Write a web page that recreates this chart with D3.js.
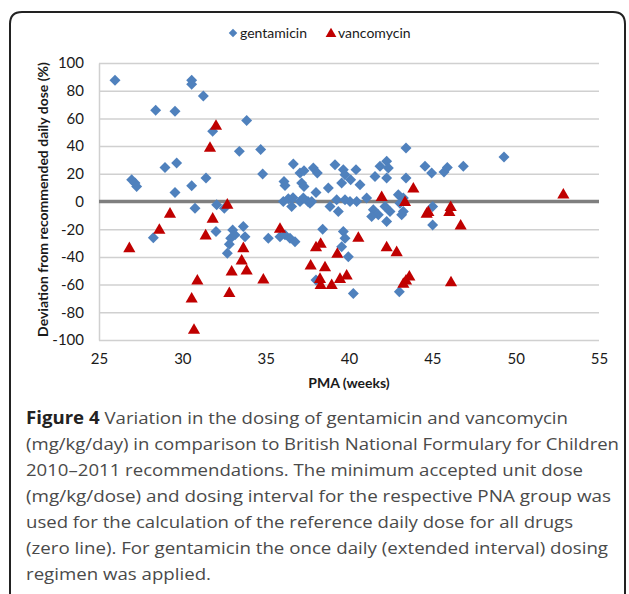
<!DOCTYPE html>
<html>
<head>
<meta charset="utf-8">
<script src="https://cdn.jsdelivr.net/npm/d3@7"></script>
<style>
  body { margin: 0; background: #fff; }
  svg { display: block; }
  text { font-family: Lato, "Open Sans", sans-serif; }
  .caption text { font-family: "Open Sans", "Noto Sans", sans-serif; }
</style>
</head>
<body>
<div id="vis-container"></div>
<script>
// values
let gentamicinPMA = [25.96, 26.96, 27.16, 27.26, 28.40, 29.56, 28.96, 29.66, 29.56, 30.56,
  30.56, 31.26, 31.82, 31.42, 30.56, 33.42, 30.76, 32.06, 32.52, 28.26,
  32.02, 33.02, 32.90, 32.82, 32.70, 33.16, 33.86, 34.70, 34.82, 36.66,
  37.06, 37.30, 37.86, 38.10, 36.10, 36.16, 37.16, 37.30, 38.02, 38.76,
  39.16, 39.66, 39.76, 40.42, 40.10, 40.66, 39.56, 41.56, 41.86, 42.26,
  42.36, 42.26, 43.42, 43.42, 44.56, 44.96, 45.70, 45.90, 46.86, 49.30,
  36.06, 36.36, 36.56, 36.64, 37.06, 37.54, 37.66, 38.86, 39.36, 39.26,
  39.76, 40.06, 40.46, 41.06, 41.46, 41.76, 41.36, 42.26, 42.16, 42.46,
  42.96, 43.26, 43.06, 43.26, 43.16, 45.02, 45.02, 33.66, 33.76, 35.16,
  35.86, 36.16, 36.46, 36.76, 38.42, 39.66, 39.76, 39.56, 39.96, 38.02,
  40.26, 43.02, 37.26, 37.76];
let gentamicinDev = [87.5, 15.7, 13.3, 10.9, 65.9, 65.2, 24.6, 27.8, 6.5, 87.5,
  84.6, 76.1, 50.7, 17.0, 11.4, 36.2, -4.8, -2.4, -4.8, -26.1,
  -21.7, -20.5, -26.5, -30.9, -37.4, -24.1, 58.5, 37.5, 19.9, 27.1,
  20.6, 22.2, 24.2, 20.6, 14.5, 11.6, 13.3, 10.9, 6.5, 9.7,
  26.6, 23.0, 19.3, 23.0, 15.7, 12.1, 13.3, 18.1, 25.4, 29.0,
  24.2, 17.0, 38.7, 17.0, 25.4, 20.6, 21.3, 24.6, 25.4, 32.2,
  0, 2.0, -3.6, 2.7, 0, 0, -1.2, -3.6, -7.2, 1.2,
  1.2, 0, 0, 2.5, -6.0, -9.6, -10.9, -14.5, -3.6, -7.2,
  4.9, 2.5, -1.2, -7.2, -9.6, -3.6, -16.9, -18.1, -25.4, -26.5,
  -25.4, -24.1, -26.5, -29.0, -20.0, -21.7, -26.5, -32.6, -39.9, -56.7,
  -66.4, -65.2, 2.5, 0];

let vancomycinPMA = [32.02, 31.66, 26.82, 28.62, 29.26, 32.70, 31.82, 31.40, 30.90, 30.56,
  30.70, 32.96, 32.82, 33.66, 33.56, 33.86, 34.86, 35.86, 38.02, 38.30,
  37.70, 38.56, 38.26, 38.30, 38.96, 39.30, 39.46, 39.86, 40.56, 42.26,
  42.86, 43.26, 43.42, 43.62, 41.96, 43.36, 44.76, 44.66, 43.86, 46.10,
  46.02, 46.70, 46.12, 52.86];
let vancomycinDev = [55.1, 39.1, -33.3, -20.0, -8.4, -1.9, -12.0, -24.1, -56.7, -69.6,
  -92.2, -50.2, -65.7, -33.3, -42.2, -49.5, -56.0, -19.3, -32.6, -30.1,
  -45.9, -47.1, -55.5, -59.9, -59.9, -37.4, -55.5, -53.1, -25.8, -32.6,
  -36.2, -59.1, -56.7, -53.8, 3.6, 0, -7.2, -8.4, 9.7, -3.6,
  -7.2, -16.9, -58.0, 5.4];

let xTicks = [25, 30, 35, 40, 45, 50, 55];
let yTicks = [-100, -80, -60, -40, -20, 0, 20, 40, 60, 80, 100];

let seriesNames = ["gentamicin", "vancomycin"];
let captionLines = [
  "Variation in the dosing of gentamicin and vancomycin",
  "(mg/kg/day) in comparison to British National Formulary for Children",
  "2010\u20132011 recommendations. The minimum accepted unit dose",
  "(mg/kg/dose) and dosing interval for the respective PNA group was",
  "used for the calculation of the reference daily dose for all drugs",
  "(zero line). For gentamicin the once daily (extended interval) dosing",
  "regimen was applied."
];
let captionEnds = [568, 619, 583, 611, 573, 608, 211];

let W = 629, H = 594;
let margin = {top: 63, right: 30, bottom: 254, left: 99};
let width = W - margin.left - margin.right;
let height = H - margin.top - margin.bottom;

let blue = "#4f81bd", red = "#c00000";

let svg = d3.select("#vis-container")
  .append("svg")
  .attr("width", W)
  .attr("height", H);

// figure frame
svg.append("path")
  .attr("d", "M10,600 V24 Q10,12 22,12 H613 Q625,12 625,24 V600")
  .attr("fill", "none")
  .attr("stroke", "#222")
  .attr("stroke-width", 2);

let g = svg.append("g")
  .attr("transform", `translate(${margin.left}, ${margin.top})`);

let x = d3.scaleLinear().domain([25, 55]).range([0, width]);
let y = d3.scaleLinear().domain([-100, 100]).range([height, 0]);

// gridlines
g.append("g")
  .attr("class", "grid")
  .call(d3.axisLeft(y).tickValues(yTicks).tickSize(-width).tickFormat(""))
  .call(s => s.select(".domain").remove())
  .call(s => s.selectAll("line").attr("stroke", "#d0d0d0").attr("stroke-width", 1.5));

// left axis (plain hyphen for negatives, as in the original)
g.append("g")
  .attr("class", "left axis")
  .call(d3.axisLeft(y).tickValues(yTicks).tickSize(0).tickPadding(15).tickFormat(d => `${d}`))
  .call(s => s.select(".domain").attr("stroke", "#d0d0d0").attr("stroke-width", 1.5))
  .call(s => s.selectAll("text").attr("font-size", "15px").attr("fill", "#1a1a1a")
    .attr("font-family", "Lato, sans-serif"));

// bottom tick labels
g.append("g")
  .attr("class", "bottom axis")
  .attr("transform", `translate(0,${height})`)
  .call(d3.axisBottom(x).tickValues(xTicks).tickSize(0).tickPadding(13))
  .call(s => s.select(".domain").remove())
  .call(s => s.selectAll("text").attr("font-size", "15px").attr("fill", "#1a1a1a")
    .attr("font-family", "Lato, sans-serif"));

// zero line
g.append("line")
  .attr("x1", 0).attr("x2", width)
  .attr("y1", y(0)).attr("y2", y(0))
  .attr("stroke", "#7f7f7f")
  .attr("stroke-width", 3.5);

// axis titles
g.append("text")
  .attr("x", width / 2)
  .attr("y", height + 48)
  .attr("text-anchor", "middle")
  .attr("font-size", "14px")
  .attr("font-weight", "bold")
  .attr("fill", "#1a1a1a")
  .text("PMA (weeks)");

g.append("text")
  .attr("transform", "rotate(-90)")
  .attr("x", -(height / 2) + 2)
  .attr("y", -51)
  .attr("text-anchor", "middle")
  .attr("font-size", "14px")
  .attr("font-weight", "bold")
  .attr("fill", "#1a1a1a")
  .text("Deviation from recommended daily dose (%)");

let diamond = d3.symbol().type(d3.symbolSquare).size(60)();
let triangle = d3.symbol().type(d3.symbolTriangle).size(64)();

g.append("g").selectAll("path")
  .data(gentamicinPMA)
  .enter()
  .append("path")
  .attr("d", diamond)
  .attr("transform", (d, i) => `translate(${x(d)},${y(gentamicinDev[i])}) rotate(45)`)
  .attr("fill", blue);

g.append("g").selectAll("path")
  .data(vancomycinPMA)
  .enter()
  .append("path")
  .attr("d", triangle)
  .attr("transform", (d, i) => `translate(${x(d)},${y(vancomycinDev[i]) + 1})`)
  .attr("fill", red);

// legend
let legend = svg.append("g").attr("transform", "translate(0,33)");
legend.append("path").attr("d", d3.symbol().type(d3.symbolSquare).size(36)())
  .attr("transform", "translate(233,0) rotate(45)").attr("fill", blue);
legend.append("text").attr("x", 240).attr("y", 5)
  .attr("font-size", "14px").attr("fill", "#1a1a1a").text(seriesNames[0]);
legend.append("path").attr("d", d3.symbol().type(d3.symbolTriangle).size(50)())
  .attr("transform", "translate(331,1)").attr("fill", red);
legend.append("text").attr("x", 338).attr("y", 5)
  .attr("font-size", "14px").attr("fill", "#1a1a1a").text(seriesNames[1]);

// caption
let cap = svg.append("g").attr("class", "caption");
captionLines.forEach((line, i) => {
  let t = cap.append("text")
    .attr("x", 26)
    .attr("y", 424 + i * 26)
    .attr("font-size", "17px")
    .attr("fill", "#4a4a4a")
    .attr("textLength", captionEnds[i] - 26)
    .attr("lengthAdjust", "spacingAndGlyphs");
  if (i === 0) {
    t.append("tspan").attr("font-weight", "bold").attr("fill", "#222").text("Figure 4 ");
  }
  t.append("tspan").text(line);
});
</script>
</body>
</html>
